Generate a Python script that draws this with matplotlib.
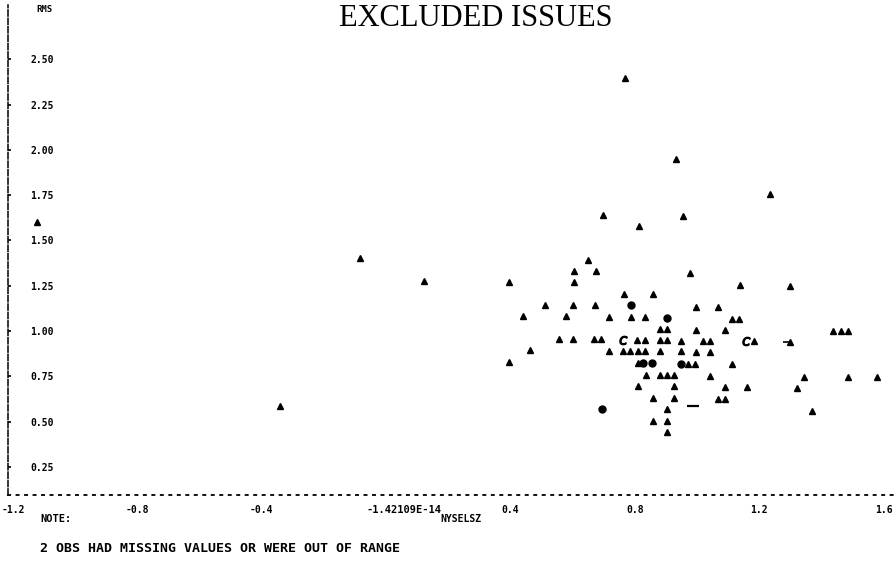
import numpy as np
import matplotlib.pyplot as plt
from matplotlib.transforms import ScaledTranslation

# NYSELSZ vs RMS, one symbol per print position
# A = 1 obs, B = 2 obs, C = 3 obs
a_x = [-1.123, -0.341, -0.085, 0.123, 0.396, 0.394, 0.441, 0.462, 0.511, 0.555,
       0.578, 0.602, 0.602, 0.603, 0.604, 0.650, 0.668, 0.692, 0.672, 0.674,
       0.698, 0.716, 0.716, 0.761, 0.764, 0.768, 0.785, 0.787, 0.808, 0.809,
       0.809, 0.810, 0.813, 0.831, 0.832, 0.832, 0.834, 0.857, 0.857, 0.858,
       0.880, 0.880, 0.880, 0.880, 0.904, 0.904, 0.904, 0.904, 0.904, 0.904,
       0.927, 0.927, 0.927, 0.931, 0.948, 0.948, 0.953, 0.971, 0.976, 0.994,
       0.996, 0.996, 0.996, 1.019, 1.042, 1.042, 1.042, 1.068, 1.067, 1.089,
       1.090, 1.090, 1.113, 1.136, 1.112, 1.138, 1.159, 1.182, 1.233, 1.298,
       1.299, 1.322, 1.344, 1.368, 1.438, 1.461, 1.484, 1.484, 1.577]
a_y = [1.602, 0.587, 1.402, 1.276, 1.272, 0.830, 1.083, 0.895, 1.144, 0.954,
       1.083, 0.954, 1.144, 1.269, 1.330, 1.395, 0.954, 0.954, 1.144, 1.330,
       1.643, 1.079, 0.890, 0.890, 1.203, 2.398, 0.890, 1.079, 0.949, 0.890,
       0.822, 0.696, 1.578, 0.949, 0.890, 1.079, 0.757, 0.630, 0.504, 1.203,
       1.009, 0.949, 0.890, 0.757, 1.009, 0.949, 0.757, 0.567, 0.504, 0.440,
       0.757, 0.696, 0.630, 1.950, 0.946, 0.890, 1.637, 0.819, 1.320, 0.819,
       1.134, 1.008, 0.886, 0.945, 0.945, 0.882, 0.753, 1.133, 0.626, 0.626,
       1.006, 0.689, 1.066, 1.066, 0.816, 1.254, 0.689, 0.945, 1.757, 0.938,
       1.250, 0.685, 0.748, 0.560, 0.998, 0.998, 0.998, 0.744, 0.744]
b_x = [0.786, 0.904, 0.827, 0.854, 0.948, 0.695]
b_y = [1.142, 1.073, 0.822, 0.822, 0.818, 0.567]
c_x = [0.761, 1.157]
c_y = [0.950, 0.945]
dash_x = [0.988]
dash_y = [0.588]
tick_x = [1.285]
tick_y = [0.938]

x_ticks = [-1.2, -0.8, -0.4, 0.0, 0.4, 0.8, 1.2, 1.6]
x_labels = ["-1.2", "-0.8", "-0.4", "-1.42109E-14", "0.4", "0.8", "1.2", "1.6"]
y_ticks = [0.25, 0.50, 0.75, 1.00, 1.25, 1.50, 1.75, 2.00, 2.25, 2.50]
y_labels = ["0.25", "0.50", "0.75", "1.00", "1.25", "1.50", "1.75", "2.00", "2.25", "2.50"]

mono = {"family": "DejaVu Sans Mono", "weight": "bold"}

fig = plt.figure(figsize=(8.95, 5.86), dpi=100)
ax = fig.add_axes([8 / 895, 91 / 586, 887 / 895, 490 / 586])

ax.plot(a_x, a_y, linestyle="none", marker="^", markersize=4.6, color="black")
ax.plot(b_x, b_y, linestyle="none", marker="o", markersize=5, color="black")
ax.plot(c_x, c_y, linestyle="none", marker="$C$", markersize=6, color="black")
ax.plot(dash_x, dash_y, linestyle="none", marker="_", markersize=9,
        markeredgewidth=1.6, color="black")
ax.plot(tick_x, tick_y, linestyle="none", marker="_", markersize=4,
        markeredgewidth=1.2, color="black")

ax.set_xlim(-1.216, 1.636)
ax.set_ylim(0.094, 2.801)

for side in ["top", "right"]:
    ax.spines[side].set_visible(False)
ax.spines["left"].set_linestyle((0, (4, 1.5)))
ax.spines["left"].set_linewidth(1.1)
ax.spines["bottom"].set_linestyle((0, (1.2, 3.5)))
ax.spines["bottom"].set_linewidth(1.3)

ax.set_xticks(x_ticks)
ax.set_xticklabels(x_labels, fontdict=mono, fontsize=7)
ax.set_yticks(y_ticks)
ax.set_yticklabels(y_labels, fontdict=mono, fontsize=7)
ax.tick_params(axis="x", length=0, pad=7)
ax.tick_params(axis="y", length=2, width=1.2, direction="in", pad=-16)
for lab in ax.get_yticklabels():
    lab.set_horizontalalignment("left")
# the long zero label sits a little right of its tick
long_lab = ax.get_xticklabels()[3]
long_lab.set_fontsize(7.5)
long_lab.set_transform(long_lab.get_transform() + ScaledTranslation(0.18, 0, fig.dpi_scale_trans))

fig.text(0.532, 1 - 19 / 586, "EXCLUDED ISSUES", family="Liberation Serif",
         fontsize=22, ha="center", va="center")
fig.text(44 / 895, 1 - 10 / 586, "RMS", fontdict=mono, fontsize=6.5, ha="center", va="center")
fig.text(440 / 895, 1 - 519 / 586, "NYSELSZ", fontdict=mono, fontsize=7, ha="left", va="center")
fig.text(40 / 895, 1 - 519 / 586, "NOTE:", fontdict=mono, fontsize=7.5, ha="left", va="center")
fig.text(40 / 895, 1 - 548 / 586, "2 OBS HAD MISSING VALUES OR WERE OUT OF RANGE",
         fontdict=mono, fontsize=9.5, ha="left", va="center")

fig.savefig("out.png", dpi=100)
